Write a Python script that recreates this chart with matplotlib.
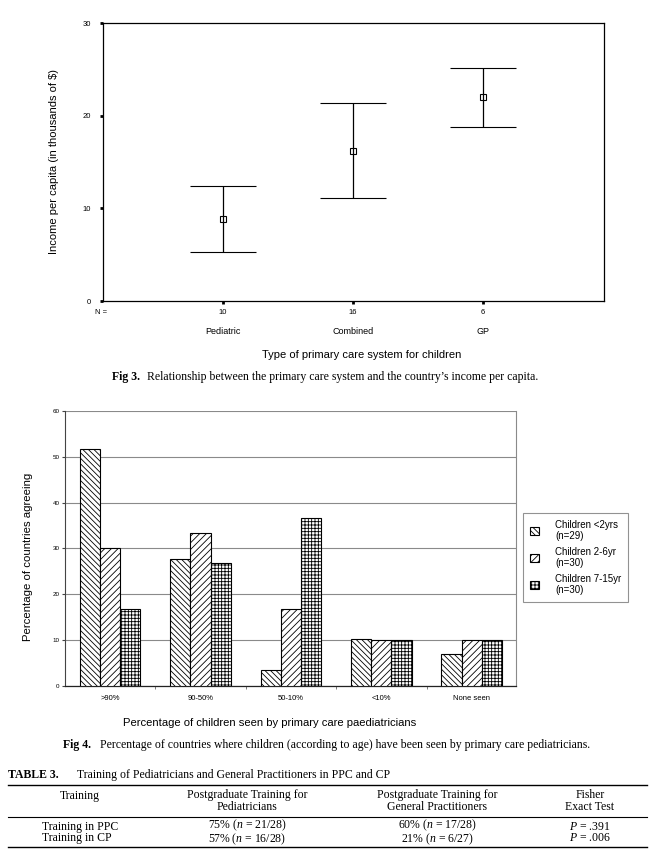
import matplotlib
matplotlib.use("Agg")
import matplotlib.pyplot as plt
import matplotlib.transforms as mtransforms
from matplotlib.lines import Line2D
import numpy as np

W, H = 652, 857

plt.rcParams["font.family"] = "Liberation Sans"
plt.rcParams["hatch.linewidth"] = 0.6
plt.rcParams["mathtext.fontset"] = "custom"
plt.rcParams["mathtext.rm"] = "Liberation Serif"
plt.rcParams["mathtext.it"] = "Liberation Serif:italic"

# Fig 3 data
care_systems = ["Pediatric", "Combined", "GP"]
n_countries = [10, 16, 6]
income_mean = [8.9, 16.2, 22.0]
income_upper = [12.4, 21.4, 25.2]
income_lower = [5.3, 11.1, 18.8]

# Fig 4 data
seen_categories = [">90%", "90-50%", "50-10%", "<10%", "None seen"]
age_labels = ["Children <2yrs\n(n=29)", "Children 2-6yr\n(n=30)", "Children 7-15yr\n(n=30)"]
pct_under2 = [51.7, 27.6, 3.4, 10.3, 6.9]
pct_2to6 = [30.0, 33.3, 16.7, 10.0, 10.0]
pct_7to15 = [16.7, 26.7, 36.7, 10.0, 10.0]

# Table 3 data
table_header = ["Training", "Postgraduate Training for\nPediatricians",
                "Postgraduate Training for\nGeneral Practitioners", "Fisher\nExact Test"]
row_labels = ["Training in PPC", "Training in CP"]
ped_training = [r"75% ($n$ = 21/28)", r"57% ($n$ = 16/28)"]
gp_training = [r"60% ($n$ = 17/28)", r"21% ($n$ = 6/27)"]
fisher_p = [r"$P$ = .391", r"$P$ = .006"]

SERIF = "Liberation Serif"
CAP = 8.5

fig = plt.figure(figsize=(W / 100, H / 100), dpi=100)


def ftext(x, y, s, **kw):
    # place text using pixel coordinates from the top-left corner
    kw.setdefault("va", "center")
    return fig.text(x / W, 1 - y / H, s, **kw)


def hrule(y, x0, x1, lw):
    fig.add_artist(Line2D([x0 / W, x1 / W], [1 - y / H, 1 - y / H], lw=lw,
                          color="black", transform=fig.transFigure))


# ---------------- Fig 3 ----------------
ax1 = fig.add_axes([102.7 / W, 1 - 301 / H, (604 - 102.7) / W, (301 - 23.3) / H])
xpos = np.arange(1, len(care_systems) + 1)
mean = np.array(income_mean)
yerr = [mean - np.array(income_lower), np.array(income_upper) - mean]
ax1.errorbar(xpos, mean, yerr=yerr, fmt="s", ms=5, mfc="none", mec="black", mew=0.8,
             ecolor="black", elinewidth=0.9, capsize=23.5, capthick=0.9)
ax1.set_xlim(0.075, 3.93)
ax1.set_ylim(0, 30)
ax1.set_yticks([0, 10, 20, 30])
ax1.set_xticks(xpos)
ax1.set_xticklabels([str(n) for n in n_countries])
ax1.tick_params(axis="both", labelsize=5.5, length=2.5, width=2, direction="out")
ax1.tick_params(axis="x", pad=3.5)
ax1.tick_params(axis="y", pad=6)
for sp in ax1.spines.values():
    sp.set_linewidth(0.9)
trans = mtransforms.blended_transform_factory(ax1.transData, ax1.transAxes)
for xi, name in zip(xpos, care_systems):
    ax1.text(xi, -0.11, name, transform=trans, ha="center", va="center", size=6.5)
ax1.text(-0.003, -0.043, "N =", transform=ax1.transAxes, ha="center", va="center", size=5.5)

ftext(54, 161.7, "Income per capita (in thousands of $)", rotation=90, ha="center", size=8)
ftext(361.5, 355, "Type of primary care system for children", ha="center", size=8)
ftext(111.7, 376.7, "Fig 3.", ha="left", family=SERIF, weight="bold", size=CAP)
ftext(147.3, 376.7, "Relationship between the primary care system and the country\u2019s income per capita.",
      ha="left", family=SERIF, size=CAP)

# ---------------- Fig 4 ----------------
ax2 = fig.add_axes([65 / W, 1 - 685.7 / H, (516 - 65) / W, (685.7 - 411) / H])
pos = np.arange(len(seen_categories))
bw = 0.2235
series = [pct_under2, pct_2to6, pct_7to15]
hatches = ["\\\\\\\\\\\\", "/////", "+++++"]
handles = []
for i, (vals, hatch, lab) in enumerate(zip(series, hatches, age_labels)):
    b = ax2.bar(pos + (i - 1) * bw, vals, bw, color="white", edgecolor="black",
                hatch=hatch, lw=0.8, label=lab, zorder=3)
    handles.append(b)
ax2.set_xlim(-0.5, 4.49)
ax2.set_ylim(0, 60)
ax2.set_yticks(np.arange(0, 61, 10))
ax2.yaxis.grid(True, color="#8a8a8a", lw=0.8)
ax2.set_axisbelow(True)
ax2.set_xticks(pos)
ax2.set_xticklabels(seen_categories)
ax2.set_xticks(pos[:-1] + 0.5, minor=True)
ax2.tick_params(axis="x", which="major", length=0, labelsize=5.5, pad=7)
ax2.tick_params(axis="x", which="minor", length=2, color="#666666")
ax2.tick_params(axis="y", labelsize=4.5, length=2, color="#444444", pad=2)
ax2.spines["top"].set_visible(False)
ax2.spines["right"].set_color("#8a8a8a")
ax2.spines["right"].set_linewidth(0.8)
ax2.spines["left"].set_color("#444444")
ax2.spines["left"].set_linewidth(0.8)
ax2.spines["bottom"].set_color("#222222")
ax2.spines["bottom"].set_linewidth(0.9)

leg = fig.legend(handles=handles, labels=age_labels, loc="upper left",
                 bbox_to_anchor=(523 / W, 1 - 513 / H), borderaxespad=0, frameon=True,
                 fancybox=False, edgecolor="#777777", fontsize=7, handlelength=0.9,
                 handleheight=0.9, handletextpad=1.7, borderpad=0.7, labelspacing=0.55)
leg.get_frame().set_linewidth(0.8)

ftext(28.3, 556.7, "Percentage of countries agreeing", rotation=90, ha="center", size=8.2)
ftext(269.7, 723.3, "Percentage of children seen by primary care paediatricians", ha="center", size=8.1)
ftext(63.3, 745, "Fig 4.", ha="left", family=SERIF, weight="bold", size=CAP)
ftext(100, 745, "Percentage of countries where children (according to age) have been seen by primary care pediatricians.",
      ha="left", family=SERIF, size=CAP)

# ---------------- Table 3 ----------------
ftext(8, 775, "TABLE 3.", ha="left", family=SERIF, weight="bold", size=CAP)
ftext(77, 775, "Training of Pediatricians and General Practitioners in PPC and CP",
      ha="left", family=SERIF, size=CAP)
hrule(785, 8, 647, 1.0)
col_x = [80, 247, 437, 590]
ftext(col_x[0], 796, table_header[0], ha="center", family=SERIF, size=CAP)
for cx, head in zip(col_x[1:], table_header[1:]):
    ftext(cx, 801, head, ha="center", family=SERIF, size=CAP, linespacing=0.9)
hrule(816.7, 8, 647, 0.8)
# body rows: one two-line text per column
row_y = 832.5
ftext(41.7, row_y, "\n".join(row_labels), ha="left", family=SERIF, size=CAP, linespacing=0.9)
for cx, col in zip(col_x[1:], [ped_training, gp_training, fisher_p]):
    ftext(cx, row_y, "\n".join(col), ha="center", family=SERIF, size=CAP, linespacing=0.9)
hrule(847.3, 8, 647, 1.0)

fig.savefig("out.png", dpi=100)
